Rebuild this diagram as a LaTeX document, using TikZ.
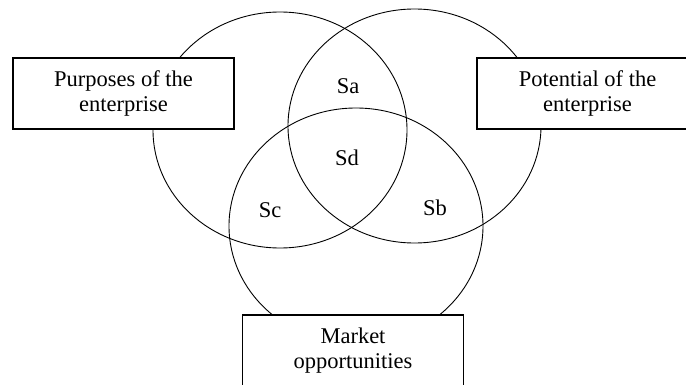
\documentclass[tikz,border=0pt]{standalone}
\usepackage{fontspec}
\setmainfont{Liberation Serif}
\usepackage{tikz}
\usetikzlibrary{positioning}
\tikzset{
  venn/.style={draw=black, line width=0.9pt},
  block/.style={rectangle, draw=black, fill=white, line width=1.1pt,
    minimum width=221pt, minimum height=71pt, align=center,
    font=\fontsize{22.5}{25}\selectfont},
  region/.style={font=\fontsize{22.5}{25}\selectfont}
}
\begin{document}
\begin{tikzpicture}[x=1pt, y=-1pt]
  \useasboundingbox (0,0) rectangle (686,385);
  \clip (0,0) rectangle (686,385);
  % the three sets
  \draw[venn] (280,130) ellipse [x radius=127pt, y radius=118pt];
  \draw[venn] (414.5,126) ellipse [x radius=126.5pt, y radius=117pt];
  \draw[venn] (356,226) ellipse [x radius=127pt, y radius=118pt];
  % boxes on top
  \node[block] (purposes) at (123.5,93.5) {Purposes of the\\enterprise};
  \node[block] (potential) at (587.5,93.5) {Potential of the\\enterprise};
  \node[block] (market) at (353,350.5) {Market\\opportunities};
  % intersections
  \node[region] (sa) at (348,86) {Sa};
  \node[region] (sd) at (347,158) {Sd};
  \node[region] (sc) at (270,210) {Sc};
  \node[region] (sb) at (435,208) {Sb};
\end{tikzpicture}
\end{document}
